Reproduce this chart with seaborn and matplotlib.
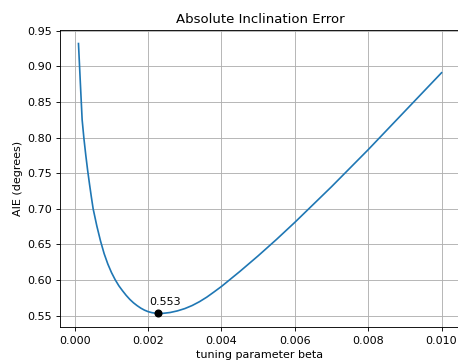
import numpy as np
import pandas as pd
import matplotlib
matplotlib.use("Agg")
import matplotlib.pyplot as plt
import seaborn as sns

# values
beta = [0.0001, 0.00015, 0.0002, 0.00025, 0.0003, 0.00035, 0.0004, 0.00045, 0.0005,
        0.0006, 0.0007, 0.0008, 0.0009, 0.0010, 0.0011, 0.0012, 0.0013, 0.0014,
        0.0015, 0.0016, 0.0017, 0.0018, 0.0019, 0.0020, 0.0021, 0.0022, 0.00227,
        0.0024, 0.0026, 0.0028, 0.0030, 0.0032, 0.0034, 0.0036, 0.0038, 0.0040,
        0.0045, 0.0050, 0.0055, 0.0060, 0.0065, 0.0070, 0.0075, 0.0080, 0.0085,
        0.0090, 0.0095, 0.0100]
aie = [0.932, 0.878, 0.825, 0.798, 0.775, 0.754, 0.735, 0.717, 0.700,
       0.676, 0.655, 0.637, 0.6225, 0.6105, 0.6005, 0.592, 0.585, 0.5785,
       0.5728, 0.568, 0.564, 0.5605, 0.5577, 0.5556, 0.5542, 0.5534, 0.553,
       0.5532, 0.5544, 0.5567, 0.5599, 0.5642, 0.5696, 0.576, 0.5834, 0.591,
       0.612, 0.634, 0.657, 0.681, 0.706, 0.731, 0.757, 0.783, 0.810,
       0.837, 0.864, 0.891]

df = pd.DataFrame({"beta": beta, "aie": aie})
i_min = df["aie"].idxmin()
b_min, a_min = df.loc[i_min, "beta"], df.loc[i_min, "aie"]

fig = plt.figure(figsize=(4.58, 3.62), dpi=100)
ax = fig.add_axes([0.1317, 0.0967, 0.872, 0.8203])

sns.lineplot(data=df, x="beta", y="aie", ax=ax, color="#1f77b4", linewidth=1.2)
ax.plot(b_min, a_min, "o", color="black", markersize=4.8)
ax.annotate(f"{a_min:.3f}", (b_min, a_min), textcoords="offset points",
            xytext=(-6.3, 6), ha="left", va="baseline", fontsize=8)

ax.grid(True, color="#b0b0b0", linewidth=0.64)
ax.set_axisbelow(True)
ax.set_xticks([0.000, 0.002, 0.004, 0.006, 0.008, 0.010])
ax.set_yticks(np.arange(0.55, 0.951, 0.05))
ax.xaxis.set_major_formatter(matplotlib.ticker.FormatStrFormatter("%.3f"))
ax.yaxis.set_major_formatter(matplotlib.ticker.FormatStrFormatter("%.2f"))
ax.tick_params(labelsize=8, width=0.64, length=2.8)
for s in ax.spines.values():
    s.set_linewidth(0.64)

ax.set_title("Absolute Inclination Error", fontsize=9.5, pad=4.8)
ax.set_xlabel("tuning parameter beta", fontsize=8, labelpad=2.8)
ax.set_ylabel("AIE (degrees)", fontsize=8, labelpad=2.8)

fig.savefig("out.png", dpi=100)
